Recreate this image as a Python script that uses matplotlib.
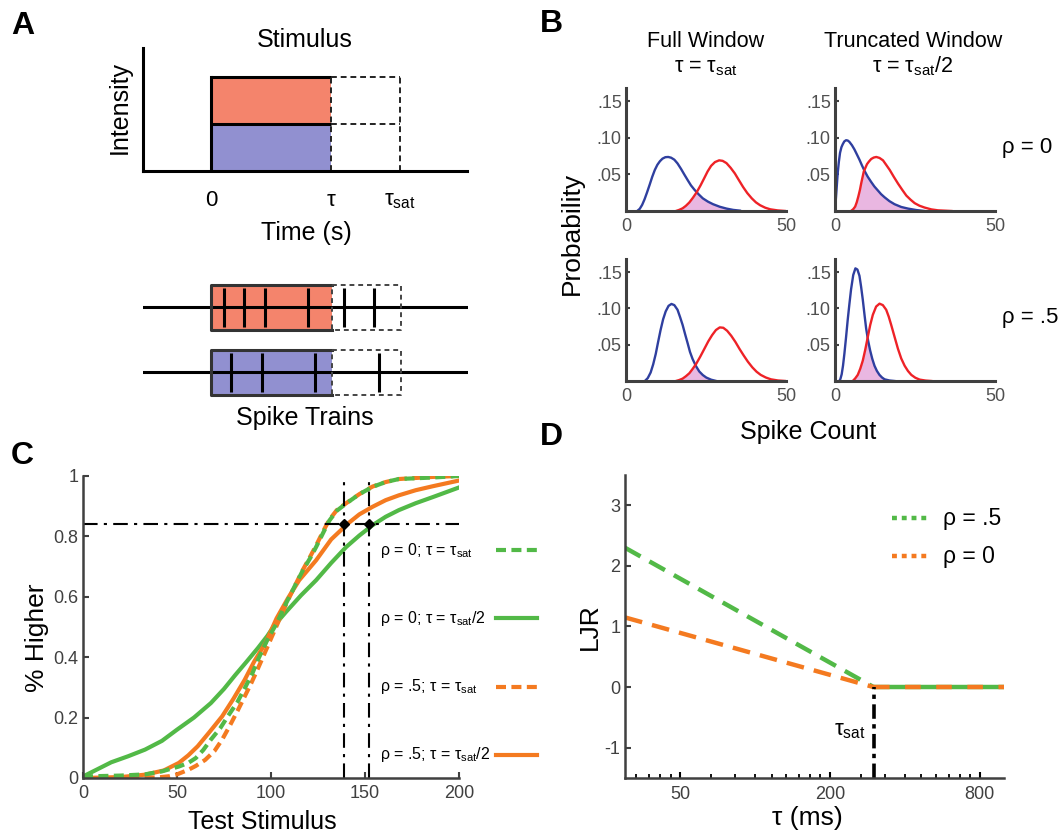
import numpy as np
import matplotlib
matplotlib.use('Agg')
import matplotlib.pyplot as plt
from matplotlib.ticker import NullFormatter

plt.rcParams['font.family'] = ['Liberation Sans', 'DejaVu Sans']
plt.rcParams['mathtext.fontset'] = 'custom'
plt.rcParams['mathtext.rm'] = 'Liberation Sans'
plt.rcParams['mathtext.it'] = 'Liberation Sans:italic'
plt.rcParams['axes.unicode_minus'] = False

# ---------------- data ----------------
# A: stimulus (time in units of tau)
tau = 1.0
tau_sat = 1.575
stim_levels = [1.0, 2.0]          # low (blue) and high (red) intensity
spikes_high = [0.108, 0.275, 0.45, 0.8, 1.1, 1.35]
spikes_low = [0.167, 0.425, 0.858, 1.392]

# B: spike count distributions (x = spike count, y = probability)
tl_blue_x = [3.5, 4.3, 5.05, 5.8, 6.6, 7.4, 8.2, 9.0, 9.8, 10.6, 11.4, 12.3, 13.2, 14.1, 15.1, 16.1, 17.2,
             18.2, 19.3, 20.3, 21.4, 22.7, 24.0, 25.6, 27.2, 29.3, 31.4, 33.5, 35.6]
tl_blue_y = [0, .003, .0084, .016, .0257, .036, .0467, .056, .0631, .068, .0715, .0735, .0738, .0728, .0701,
             .065, .0575, .050, .042, .035, .029, .0228, .0173, .0128, .0093, .0058, .0033, .0015, .0005]
tl_red_x = [15.6, 16.6, 17.7, 18.7, 19.8, 20.9, 22.1, 23.3, 24.5, 25.5, 26.6, 27.8, 29.1, 30.2, 31.4, 32.7,
            34.0, 35.3, 36.6, 37.9, 39.3, 40.6, 41.9, 43.5, 45.1, 47.4, 49.8]
tl_red_y = [0, .0015, .0037, .007, .0117, .018, .0257, .035, .0453, .054, .0617, .0668, .0692, .0685, .0654,
            .059, .0514, .042, .0327, .0245, .0173, .0118, .0079, .0045, .0023, .0008, 0]
tl_cross = (22.1, 0.0257)

tr_blue_x = [0, .31, .84, 1.2, 1.57, 2.0, 2.41, 2.9, 3.45, 4.0, 4.5, 5.3, 6.07, 6.85, 7.64, 8.4, 9.2, 10.2,
             11.3, 12.3, 13.4, 14.4, 15.5, 17.0, 18.6, 20.7, 22.8, 25.4, 28.0]
tr_blue_y = [0, .0187, .0514, .067, .0794, .087, .0911, .095, .0967, .0962, .0944, .0898, .0841, .0772, .0701,
             .0625, .0551, .047, .0397, .0335, .028, .023, .0187, .0135, .0093, .0055, .0033, .0013, 0]
tr_red_x = [5.0, 5.7, 6.3, 6.8, 7.3, 7.8, 8.2, 8.6, 9.0, 9.5, 10.0, 10.6, 11.3, 12.1, 12.9, 13.9, 15.0, 16.0,
            17.1, 18.4, 19.7, 21.0, 22.3, 23.6, 24.9, 26.4, 28.0, 30.1, 32.2, 36.4]
tr_red_y = [0, .0025, .006, .012, .02, .029, .038, .046, .054, .059, .064, .0675, .071, .073, .0738, .0725,
            .0692, .063, .0561, .0465, .0374, .029, .021, .0155, .0107, .0072, .0047, .0022, .0009, 0]
tr_cross = (9.0, 0.054)

bl_blue_x = [5.9, 6.8, 7.7, 8.5, 9.3, 10.0, 10.8, 11.6, 12.4, 13.3, 14.2, 15.1, 16.1, 16.9, 17.7, 18.5, 19.3,
             20.0, 20.8, 21.8, 22.9, 24.0, 25.1, 26.6, 28.2]
bl_blue_y = [0, .004, .0117, .023, .0374, .053, .0701, .085, .0958, .1035, .1061, .1045, .0981, .088, .0771,
             .064, .0514, .040, .0304, .021, .0131, .0082, .0047, .0018, 0]
bl_red_x = [15.6, 16.6, 17.7, 18.7, 19.8, 20.8, 21.9, 23.2, 24.5, 25.7, 26.9, 28.1, 29.3, 30.4, 31.6, 32.9,
            34.2, 35.5, 36.8, 38.1, 39.5, 40.8, 42.1, 43.7, 45.3, 47.5, 49.8]
bl_red_y = [0, .0013, .0033, .0065, .0107, .0165, .0234, .0335, .0444, .0545, .0631, .0702, .0738, .0733,
            .0692, .0622, .0537, .044, .035, .0265, .0187, .0128, .0084, .0048, .0023, .0007, 0]
bl_cross = (21.7, 0.022)

br_blue_x = [1.36, 1.7, 2.09, 2.5, 2.93, 3.45, 3.97, 4.5, 5.02, 5.7, 6.38, 7.0, 7.64, 8.15, 8.68, 9.2, 9.73,
             10.35, 10.98, 11.65, 12.34, 13.1, 13.9, 14.7, 15.5, 17.0, 18.6]
br_blue_y = [0, .003, .0093, .021, .0374, .06, .0841, .106, .1262, .146, .1551, .1535, .1449, .13, .1121,
             .092, .0724, .0555, .0421, .0305, .021, .0138, .0084, .0048, .0023, .0007, 0]
br_red_x = [5.54, 6.3, 7.11, 7.9, 8.68, 9.45, 10.25, 11.0, 11.82, 12.85, 13.91, 14.95, 16.0, 16.8, 17.57,
            18.6, 19.67, 20.7, 21.76, 22.8, 23.85, 25.1, 26.46, 28.3, 30.1]
br_red_y = [0, .0035, .0084, .017, .028, .043, .0607, .077, .0911, .1025, .1065, .1045, .0981, .0885, .0771,
            .061, .0444, .031, .021, .0138, .0084, .0045, .0019, .0006, 0]
br_cross = (10.1, 0.061)

# C: psychometric curves (test stimulus vs proportion "higher")
gs_x = [0, 8, 15, 24, 33, 42, 50, 59, 68, 75, 81, 87, 93, 98, 102, 108, 116, 124, 132, 140, 147, 154, 161,
        168, 177, 186, 193, 200]                                   # rho=0, tau_sat/2
gs_y = [0.005, 0.03, 0.052, 0.072, 0.094, 0.123, 0.16, 0.2, 0.248, 0.295, 0.341, 0.385, 0.43, 0.47, 0.507,
        0.55, 0.605, 0.655, 0.712, 0.765, 0.803, 0.837, 0.865, 0.887, 0.91, 0.93, 0.946, 0.962]
os_x = [0, 20, 33, 43, 51, 56, 61, 67, 74, 80, 86, 91, 97, 103, 109, 115, 124, 132, 141, 147, 154, 161, 168,
        177, 186, 200]                                             # rho=.5, tau_sat/2
os_y = [0, 0.003, 0.011, 0.025, 0.05, 0.075, 0.105, 0.15, 0.204, 0.262, 0.325, 0.385, 0.446, 0.529, 0.595,
        0.655, 0.721, 0.79, 0.843, 0.873, 0.898, 0.92, 0.936, 0.953, 0.966, 0.985]
gd_x = [0, 20, 33, 42, 51, 56, 60, 64, 68, 73, 77, 82, 86, 90, 93, 98, 103, 108, 113, 117, 121, 124, 128,
        131, 135, 140, 147, 154, 161, 168, 186, 200]               # rho=0, tau_sat
gd_y = [0.005, 0.008, 0.012, 0.022, 0.038, 0.05, 0.066, 0.093, 0.127, 0.165, 0.204, 0.25, 0.297, 0.345,
        0.391, 0.457, 0.512, 0.578, 0.64, 0.688, 0.73, 0.765, 0.815, 0.852, 0.885, 0.909, 0.94, 0.964, 0.98,
        0.99, 0.995, 1.0]
od_x = [0, 20, 40, 46, 50, 56, 60, 65, 70, 74, 78, 82.5, 86, 89.5, 93, 96.6, 102, 108, 113, 117, 121, 124,
        128, 131, 135, 140, 147, 154, 161, 168, 186, 200]          # rho=.5, tau_sat
od_y = [0, 0, 0.002, 0.006, 0.012, 0.027, 0.04, 0.06, 0.09, 0.127, 0.172, 0.226, 0.27, 0.314, 0.362, 0.413,
        0.49, 0.575, 0.64, 0.69, 0.735, 0.77, 0.82, 0.855, 0.887, 0.91, 0.94, 0.965, 0.98, 0.99, 0.997, 1.0]
thresh = 0.84
jnd_x = [139, 152]

# D: LJR vs integration window
tau_pts = [30, 300, 1000]
ljr_rho5 = [2.3, 0, 0]
ljr_rho0 = [1.15, 0, 0]
tau_sat_ms = 300

# ---------------- styling ----------------
salmon = '#f4846c'
lavender = '#9190d0'
blue = '#2f3f9f'
red = '#ee2227'
pink = '#e9b7e1'
green = '#52b947'
orange = '#f47a20'
gray = '#404040'

W, H = 1058, 835
fig = plt.figure(figsize=(W / 100, H / 100), dpi=100)


def add_ax(l, t, r, b):
    return fig.add_axes([l / W, 1 - b / H, (r - l) / W, (b - t) / H])


def ftext(x, y, s, **kw):
    kw.setdefault('ha', 'center')
    kw.setdefault('va', 'center')
    return fig.text(x / W, 1 - y / H, s, **kw)


# ---------------- panel A ----------------
axA = add_ax(143, 48, 467, 171)
axA.set_xlim(-0.567, 2.133)
axA.set_ylim(0, 2.617)
axA.fill_between([0, tau], 0, stim_levels[0], color=lavender, lw=0)
axA.fill_between([0, tau], stim_levels[0], stim_levels[1], color=salmon, lw=0)
axA.plot([0, 0], [0, stim_levels[1]], color='k', lw=2.2)
for lv in stim_levels:
    axA.plot([0, tau], [lv, lv], color='k', lw=2.2, solid_capstyle='butt')
    axA.plot([tau, tau_sat], [lv, lv], color='#222222', lw=1.4, dashes=(3, 2))
for xv in [tau, tau_sat]:
    axA.plot([xv, xv], [0, stim_levels[1]], color='#222222', lw=1.4, dashes=(3, 2))
for s in ['top', 'right']:
    axA.spines[s].set_visible(False)
for s in ['left', 'bottom']:
    axA.spines[s].set_linewidth(2.2)
axA.set_yticks([])
axA.set_xticks([0, tau, tau_sat], ['0', 'τ', r'τ$_{\rm sat}$'])
axA.tick_params(axis='x', length=0, pad=14, labelsize=16)
ftext(305, 40, 'Stimulus', fontsize=18)
ftext(120, 108, 'Intensity', fontsize=18, rotation=90)
ftext(306, 233, 'Time (s)', fontsize=18)

axS = add_ax(143, 275, 468, 405)
axS.set_xlim(-0.567, 2.133)
axS.set_ylim(-1, 1)
axS.axis('off')
hh = 0.346
for yc, col, spk in [(0.5, salmon, spikes_high), (-0.5, lavender, spikes_low)]:
    axS.fill_between([0, tau], yc - hh, yc + hh, color=col, lw=0)
    axS.plot([-0.567, 2.133], [yc, yc], color='k', lw=2.2)
    axS.vlines(spk, yc - 0.3, yc + 0.3, color='k', lw=2.2)
    axS.plot([tau, 0, 0, tau], [yc + hh, yc + hh, yc - hh, yc - hh], color='#333333', lw=2.2)
    axS.plot([tau, tau_sat, tau_sat, tau, tau], [yc + hh, yc + hh, yc - hh, yc - hh, yc + hh],
             color='#444444', lw=1.4, dashes=(2.5, 2))
ftext(305, 418, 'Spike Trains', fontsize=18)

# ---------------- panel B ----------------
b_panels = [
    ((626, 88, 786, 211), tl_blue_x, tl_blue_y, tl_red_x, tl_red_y, tl_cross),
    ((835, 88, 995, 211), tr_blue_x, tr_blue_y, tr_red_x, tr_red_y, tr_cross),
    ((626, 259, 786, 381), bl_blue_x, bl_blue_y, bl_red_x, bl_red_y, bl_cross),
    ((835, 259, 995, 381), br_blue_x, br_blue_y, br_red_x, br_red_y, br_cross),
]
for rect, bx, by, rx, ry, cross in b_panels:
    ax = add_ax(*rect)
    bx, by, rx, ry = map(np.array, (bx, by, rx, ry))
    fx = np.concatenate([rx[rx < cross[0]], [cross[0]], bx[bx > cross[0]]])
    fy = np.concatenate([ry[rx < cross[0]], [cross[1]], by[bx > cross[0]]])
    ax.fill_between(fx, 0, fy, color=pink, lw=0)
    ax.plot(bx, by, color=blue, lw=1.7)
    ax.plot(rx, ry, color=red, lw=1.7)
    ax.set_xlim(0, 50)
    ax.set_ylim(0, 0.168)
    ax.set_xticks([0, 50])
    ax.set_yticks([0.05, 0.10, 0.15], ['.05', '.10', '.15'])
    for s in ['top', 'right']:
        ax.spines[s].set_visible(False)
    for s in ['left', 'bottom']:
        ax.spines[s].set_linewidth(2.2)
        ax.spines[s].set_color(gray)
    ax.tick_params(axis='y', direction='in', length=3, width=1.5, color=gray,
                   labelcolor='#505050', labelsize=13, pad=3)
    ax.tick_params(axis='x', length=0, labelcolor='#505050', labelsize=13, pad=5)

ftext(706, 47, 'Full Window', fontsize=15.5, va='baseline')
ftext(706, 72, r'τ = τ$_{\rm sat}$', fontsize=15.5, va='baseline')
ftext(913, 47, 'Truncated Window', fontsize=15.5, va='baseline')
ftext(913, 72, r'τ = τ$_{\rm sat}$/2', fontsize=15.5, va='baseline')
ftext(1002, 153, 'ρ = 0', fontsize=16, ha='left', va='baseline')
ftext(1002, 323, 'ρ = .5', fontsize=16, ha='left', va='baseline')
ftext(572, 233, 'Probability', fontsize=19, rotation=90)
ftext(808, 432, 'Spike Count', fontsize=18)

# ---------------- panel C ----------------
axC = add_ax(83, 476, 459, 778)
lw_c = 3.0
axC.plot(gs_x, gs_y, color=green, lw=lw_c)
axC.plot(os_x, os_y, color=orange, lw=lw_c)
axC.plot(od_x, od_y, color=orange, lw=lw_c, dashes=(2.4, 1.3))
axC.plot(gd_x, gd_y, color=green, lw=lw_c, dashes=(2.4, 1.3))
dd = (7, 3, 1.5, 3)
axC.plot([0, 200], [thresh, thresh], color='k', lw=1.5, dashes=dd)
for xv in jnd_x:
    axC.plot([xv, xv], [0, 1.0], color='k', lw=1.5, dashes=dd)
axC.plot(jnd_x, [thresh] * len(jnd_x), 'kD', ms=5.5)
axC.set_xlim(0, 200)
axC.set_ylim(0, 1)
axC.set_xticks([0, 50, 100, 150, 200])
axC.set_yticks([0, 0.2, 0.4, 0.6, 0.8, 1], ['0', '0.2', '0.4', '0.6', '0.8', '1'])
for s in ['top', 'right']:
    axC.spines[s].set_visible(False)
for s in ['left', 'bottom']:
    axC.spines[s].set_linewidth(1.8)
    axC.spines[s].set_color(gray)
axC.tick_params(direction='in', length=4, width=1.5, color=gray, labelcolor=gray, labelsize=13)
axC.tick_params(axis='x', pad=5)
ftext(37, 638, '% Higher', fontsize=19, rotation=90)
ftext(262, 822, 'Test Stimulus', fontsize=18)

c_leg = [
    (r'ρ = 0; τ = τ$_{\rm sat}$', green, True, 550),
    (r'ρ = 0; τ = τ$_{\rm sat}$/2', green, False, 618),
    (r'ρ = .5; τ = τ$_{\rm sat}$', orange, True, 687),
    (r'ρ = .5; τ = τ$_{\rm sat}$/2', orange, False, 755),
]
for lab, col, dashed, py in c_leg:
    ftext(380, py, lab, fontsize=11.5, ha='left')
    ln = plt.Line2D([496 / W, 537 / W], [1 - py / H] * 2, color=col, lw=lw_c,
                    transform=fig.transFigure)
    if dashed:
        ln.set_dashes((2.4, 1.3))
    fig.add_artist(ln)

# ---------------- panel D ----------------
axD = add_ax(625, 475, 1004, 778)
axD.set_xscale('log')
lw_d = 3.2
axD.plot(tau_pts[:2], ljr_rho5[:2], color=green, lw=lw_d, dashes=(4, 2.3))
axD.plot(tau_pts[:2], ljr_rho0[:2], color=orange, lw=lw_d, dashes=(4, 2.3))
axD.plot(tau_pts[1:], ljr_rho5[1:], color=green, lw=lw_d, solid_capstyle='butt')
axD.plot(tau_pts[1:], ljr_rho0[1:], color=orange, lw=lw_d, dashes=(3.5, 3.5))
axD.plot([tau_sat_ms, tau_sat_ms], [-1.5, 0], color='k', lw=2.6, dashes=(4, 1.5, 1.2, 1.5))
axD.text(280, -0.72, r'τ$_{\rm sat}$', fontsize=16, ha='right', va='center')
axD.set_xlim(30, 1003)
axD.set_ylim(-1.5, 3.5)
axD.set_xticks([50, 200, 800], ['50', '200', '800'])
minor = [b * (1 + j / 3) for b in [12.5, 50, 200, 800] for j in range(1, 9)]
axD.set_xticks([m for m in minor if 30 < m < 1000], minor=True)
axD.xaxis.set_minor_formatter(NullFormatter())
axD.set_yticks([-1, 0, 1, 2, 3])
for s in ['top', 'right']:
    axD.spines[s].set_visible(False)
for s in ['left', 'bottom']:
    axD.spines[s].set_linewidth(1.8)
    axD.spines[s].set_color(gray)
axD.tick_params(direction='in', length=4, width=1.5, color=gray, labelcolor=gray, labelsize=13)
axD.tick_params(axis='x', which='both', color='k', pad=6)
axD.tick_params(axis='x', which='minor', direction='in', length=3, width=1.3)
ftext(590, 627, 'LJR', fontsize=19, rotation=90)
ftext(807, 818, 'τ (ms)', fontsize=19)

for lab, col, py in [('ρ = .5', green, 518), ('ρ = 0', orange, 556)]:
    ftext(943, py, lab, fontsize=16.5, ha='left')
    ln = plt.Line2D([892 / W, 928 / W], [1 - py / H] * 2, color=col, lw=lw_d,
                    dashes=(1.1, 1.1), transform=fig.transFigure)
    fig.add_artist(ln)

# panel letters
for lab, x, y in [('A', 23, 26), ('B', 551, 24), ('C', 22, 456), ('D', 551, 437)]:
    ftext(x, y, lab, fontsize=23, fontweight='bold')

fig.savefig('out.png', dpi=100)
